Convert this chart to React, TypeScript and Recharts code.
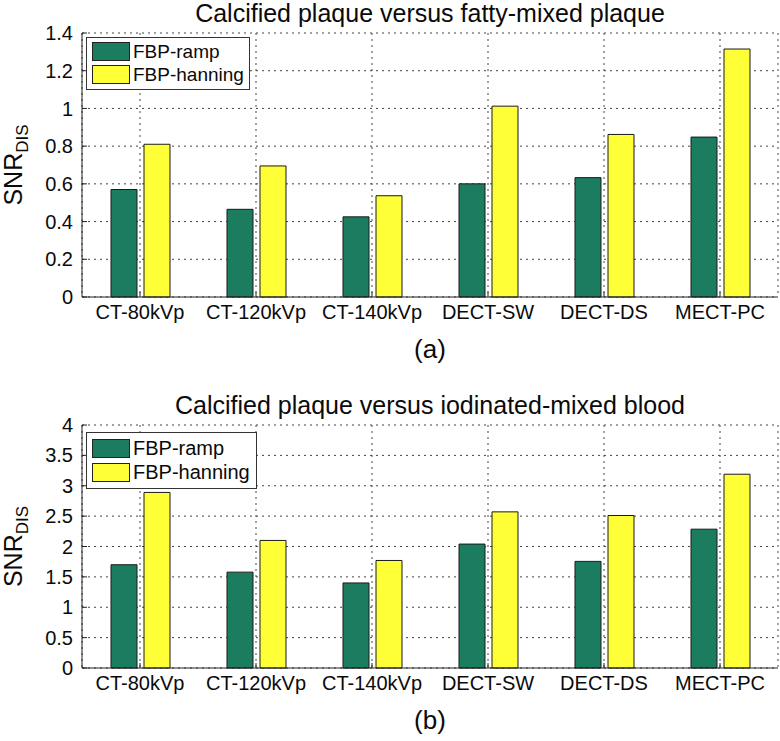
import React from 'react';
import { BarChart, Bar, XAxis, YAxis, CartesianGrid, Legend } from 'recharts';

const categories = ['CT-80kVp', 'CT-120kVp', 'CT-140kVp', 'DECT-SW', 'DECT-DS', 'MECT-PC'];

// (a) calcified plaque vs fatty-mixed plaque
const fattyRamp = [0.57, 0.465, 0.425, 0.6, 0.633, 0.848];
const fattyHanning = [0.81, 0.695, 0.537, 1.012, 0.862, 1.315];
const fattyTicks = [0, 0.2, 0.4, 0.6, 0.8, 1, 1.2, 1.4];

// (b) calcified plaque vs iodinated-mixed blood
const iodRamp = [1.7, 1.578, 1.4, 2.04, 1.755, 2.285];
const iodHanning = [2.89, 2.1, 1.77, 2.57, 2.51, 3.19];
const iodTicks = [0, 0.5, 1, 1.5, 2, 2.5, 3, 3.5, 4];

const seriesOrder = ['ramp', 'hanning'];

const FONT = '"Liberation Sans", Arial, Helvetica, sans-serif';
const GREEN = '#1b7c60';
const YELLOW = '#ffff38';
const INK = '#0a0a0a';

const LegendBox = (props: any) => {
  const payload = [...(props.payload || [])].sort(
    (a: any, b: any) => seriesOrder.indexOf(a.dataKey) - seriesOrder.indexOf(b.dataKey)
  );
  const big = props.big;
  return (
    <div
      style={{
        display: 'inline-block',
        border: '1px solid #333',
        background: '#fff',
        padding: big ? '3px 6px 4px 5px' : '2px 5px 3px 5px',
        fontFamily: FONT,
        fontSize: big ? 20 : 19,
        color: INK,
      }}
    >
      {payload.map((p: any) => (
        <div key={p.value} style={{ display: 'flex', alignItems: 'center', height: big ? 24 : 23 }}>
          <span
            style={{
              display: 'inline-block',
              width: 36,
              height: 17,
              background: p.color,
              border: '1px solid #222',
              marginRight: 3,
            }}
          />
          <span>{p.value}</span>
        </div>
      ))}
    </div>
  );
};

const YLabel = (props: any) => {
  const { viewBox } = props;
  const cy = viewBox.y + viewBox.height / 2;
  const x = 22;
  return (
    <text
      x={x}
      y={cy}
      transform={`rotate(-90, ${x}, ${cy})`}
      textAnchor="middle"
      fontFamily={FONT}
      fontSize={25}
      fill={INK}
    >
      SNR
      <tspan dy={6} fontSize={17}>
        DIS
      </tspan>
    </text>
  );
};

const noTick = () => <g />;

function Panel({
  title,
  caption,
  ramp,
  hanning,
  ticks,
  top,
  height,
  marginTop,
  legendTop,
  bigLegend,
}: {
  title: string;
  caption: string;
  ramp: number[];
  hanning: number[];
  ticks: number[];
  top: number;
  height: number;
  marginTop: number;
  legendTop: number;
  bigLegend?: boolean;
}) {
  const data = categories.map((name, i) => ({ name, ramp: ramp[i], hanning: hanning[i] }));
  const max = ticks[ticks.length - 1];
  return (
    <div style={{ position: 'absolute', left: 0, top, width: 780, height }}>
      <div
        style={{
          position: 'absolute',
          left: 82,
          width: 696,
          top: marginTop - 34,
          textAlign: 'center',
          fontFamily: FONT,
          fontSize: 25,
          lineHeight: '28px',
          color: INK,
        }}
      >
        {title}
      </div>
      <BarChart
        width={780}
        height={height}
        data={data}
        margin={{ top: marginTop, right: 2, left: 0, bottom: 43 }}
        barSize={26}
        barGap={7}
      >
        <CartesianGrid stroke="#444" strokeDasharray="2 4" />
        <XAxis
          dataKey="name"
          height={30}
          stroke="#222"
          tickSize={-5}
          tickMargin={13}
          tick={{ fill: INK, fontSize: 20, fontFamily: FONT }}
          interval={0}
        />
        <XAxis xAxisId="top" dataKey="name" orientation="top" height={0} stroke="#222" tickSize={-5} tick={noTick} />
        <YAxis
          width={82}
          domain={[0, max]}
          ticks={ticks}
          stroke="#222"
          tickSize={-5}
          tickMargin={14}
          tick={{ fill: INK, fontSize: 20, fontFamily: FONT }}
          label={<YLabel />}
        />
        <YAxis
          yAxisId="r"
          orientation="right"
          width={0}
          domain={[0, max]}
          ticks={ticks}
          stroke="#222"
          tickSize={-5}
          tick={noTick}
        />
        <Legend
          layout="horizontal"
          verticalAlign="middle"
          align="center"
          wrapperStyle={{ top: legendTop, left: 86, width: 'auto', height: 'auto' }}
          content={<LegendBox big={bigLegend} />}
        />
        <Bar dataKey="ramp" name="FBP-ramp" fill={GREEN} stroke="#1a1a1a" strokeWidth={1} isAnimationActive={false} />
        <Bar dataKey="hanning" name="FBP-hanning" fill={YELLOW} stroke="#1a1a1a" strokeWidth={1} isAnimationActive={false} />
      </BarChart>
      <div
        style={{
          position: 'absolute',
          left: 82,
          width: 696,
          top: height - 36,
          textAlign: 'center',
          fontFamily: FONT,
          fontSize: 26,
          lineHeight: '30px',
          color: INK,
        }}
      >
        {caption}
      </div>
    </div>
  );
}

export default function App() {
  return (
    <div style={{ position: 'absolute', left: 0, top: 0, width: 780, height: 741, background: '#fff' }}>
      <Panel
        title="Calcified plaque versus fatty-mixed plaque"
        caption="(a)"
        ramp={fattyRamp}
        hanning={fattyHanning}
        ticks={fattyTicks}
        top={0}
        height={370}
        marginTop={33}
        legendTop={37}
      />
      <Panel
        title="Calcified plaque versus iodinated-mixed blood"
        caption="(b)"
        ramp={iodRamp}
        hanning={iodHanning}
        ticks={iodTicks}
        top={370}
        height={371}
        marginTop={55}
        legendTop={62}
        bigLegend
      />
    </div>
  );
}
